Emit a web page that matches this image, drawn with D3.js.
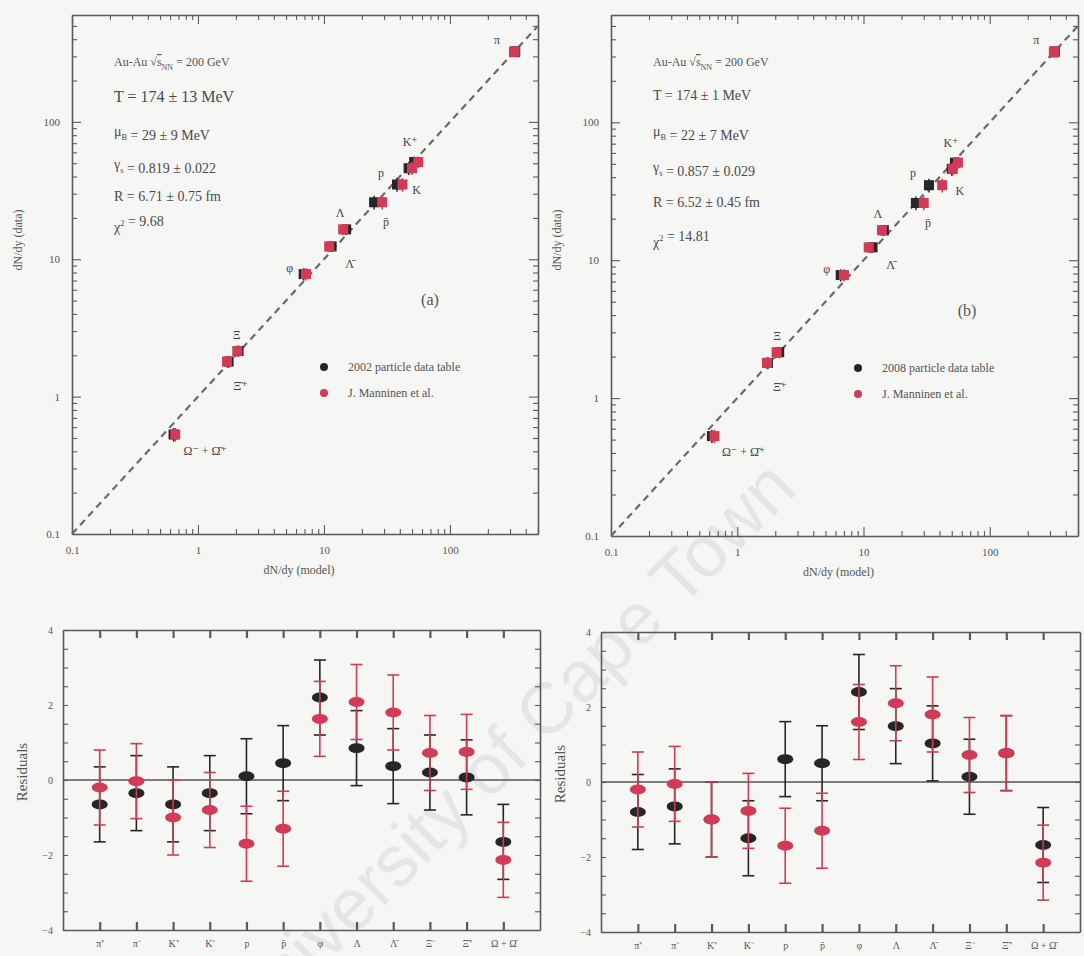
<!DOCTYPE html>
<html lang="en">
<head>
<meta charset="UTF-8">
<title>Thermal fit</title>
<script src="https://cdn.jsdelivr.net/npm/d3@7/dist/d3.min.js"></script>
<style>
  body { margin: 0; background: #f6f6f5; }
  svg { display: block; font-family: "Liberation Serif", "DejaVu Serif", serif; }
  .frame line, .frame path { stroke: #5a5a5a; }
  .tk text { fill: #555; }
</style>
</head>
<body>
<script>
// particle species (residual categories)
var cats = ["π⁺", "π⁻", "K⁺", "K⁻", "p", "p\u0304", "φ", "Λ", "Λ\u0304", "Ξ⁻", "Ξ\u0304⁺", "Ω + Ω\u0304"];

// measured yields dN/dy (data) and their errors
var dataYield = [322, 327, 51, 46, 35, 26, 7.8, 16.5, 12.4, 2.15, 1.8, 0.53];
var dataErr   = [24, 24, 5, 5, 4, 3, 0.8, 1.5, 1.1, 0.2, 0.18, 0.06];

// model yields, panel (a) and (b)
var modelA_pdg = [328, 330, 52, 47, 38, 25, 6.9, 15.0, 11.5, 2.1, 1.75, 0.64];
var modelA_man = [322, 327, 56, 50, 42, 29, 7.2, 14.2, 11.0, 2.05, 1.7, 0.66];
var modelB_pdg = [325, 328, 53, 50, 33, 26, 6.6, 14.5, 11.8, 2.15, 1.75, 0.63];
var modelB_man = [322, 326, 56, 51, 42, 30, 7.0, 14.0, 11.0, 2.05, 1.72, 0.66];

// residuals
var resA_pdg = [-0.65, -0.35, -0.65, -0.35, 0.1, 0.45, 2.2, 0.85, 0.37, 0.2, 0.07, -1.65];
var resA_man = [-0.2, -0.03, -1.0, -0.8, -1.7, -1.3, 1.63, 2.08, 1.8, 0.72, 0.75, -2.13];
var resB_pdg = [-0.8, -0.65, -1.0, -1.5, 0.61, 0.5, 2.4, 1.49, 1.03, 0.14, 0.77, -1.68];
var resB_man = [-0.2, -0.05, -1.0, -0.77, -1.7, -1.3, 1.6, 2.1, 1.8, 0.72, 0.77, -2.15];
var resErr   = [1, 1, 1, 1, 1, 1, 1, 1, 1, 1, 1, 1];

var legendA = ["2002 particle data table", "J. Manninen et al."];
var legendB = ["2008 particle data table", "J. Manninen et al."];

var BLACK = "#262626", RED = "#d23a55";

var svg = d3.select("body").append("svg").attr("width", 1084).attr("height", 956);

// watermark
svg.append("text").attr("transform", "translate(525,765) rotate(-45)")
  .attr("text-anchor", "middle").attr("font-family", "Liberation Sans, Arial, sans-serif")
  .attr("font-size", 72).attr("fill", "#dedede").attr("fill-opacity", 0.7)
  .text("University of Cape Town");

// label offsets for particle names in the scatter panels (index into cats)
var scatLabels = [
  {i: 0, t: "π", dx: -18, dy: -12},
  {i: 2, t: "K⁺", dx: -4, dy: -20},
  {i: 3, t: "K", dx: 8, dy: 22},
  {i: 4, t: "p", dx: -16, dy: -12},
  {i: 5, t: "p\u0304", dx: 12, dy: 20},
  {i: 7, t: "Λ", dx: -6, dy: -16},
  {i: 8, t: "Λ\u0304", dx: 18, dy: 18},
  {i: 6, t: "φ", dx: -14, dy: -6},
  {i: 9, t: "Ξ", dx: -2, dy: -16},
  {i: 10, t: "Ξ\u0304⁺", dx: 12, dy: 24},
  {i: 11, t: "Ω⁻ + Ω\u0304⁺", dx: 10, dy: 16, anchor: "start"}
];

function scatter(box, mPdg, mMan, legend, tag, params) {
  var x = d3.scaleLog().domain([0.1, 500]).range([box.l, box.r]);
  var y = d3.scaleLog().domain([0.1, 600]).range([box.b, box.t]);
  var g = svg.append("g");
  var fmt = function(d) { var e = Math.log10(d); return Math.abs(e - Math.round(e)) < 1e-6 ? (d < 1 ? "0.1" : d3.format("d")(d)) : ""; };

  var ax = [
    {a: d3.axisBottom(x).tickFormat(fmt), tr: "translate(0," + box.b + ")"},
    {a: d3.axisTop(x).tickFormat(""), tr: "translate(0," + box.t + ")"},
    {a: d3.axisLeft(y).tickFormat(fmt), tr: "translate(" + box.l + ",0)"},
    {a: d3.axisRight(y).tickFormat(""), tr: "translate(" + box.r + ",0)"}
  ];
  ax.forEach(function(o) {
    var s = g.append("g").attr("class", "frame tk").attr("transform", o.tr).call(o.a.tickSizeOuter(0).tickPadding(6));
    s.select(".domain").attr("stroke-width", 1.6);
    s.selectAll(".tick line").attr("stroke-width", 1.1)
      .each(function(d) {
        var e = Math.log10(d), maj = Math.abs(e - Math.round(e)) < 1e-6;
        var len = maj ? 9 : 5;
        var el = d3.select(this);
        if (el.attr("y2") !== null && +el.attr("y2") !== 0) el.attr("y2", el.attr("y2") > 0 ? -len : len);
        if (el.attr("x2") !== null && +el.attr("x2") !== 0) el.attr("x2", el.attr("x2") > 0 ? -len : len);
      });
    s.selectAll(".tick text").attr("font-size", 11).attr("font-family", "Liberation Serif, serif");
  });

  // diagonal y = x
  g.append("line").attr("x1", x(0.1)).attr("y1", y(0.1)).attr("x2", x(500)).attr("y2", y(500))
    .attr("stroke", "#6a6a6a").attr("stroke-width", 2.2).attr("stroke-dasharray", "7,5");

  [[mPdg, BLACK], [mMan, RED]].forEach(function(s) {
    var pts = g.append("g").selectAll("g").data(s[0]).enter().append("g");
    pts.append("line")
      .attr("x1", function(d) { return x(d); }).attr("x2", function(d) { return x(d); })
      .attr("y1", function(d, i) { return y(dataYield[i] + dataErr[i]); })
      .attr("y2", function(d, i) { return y(dataYield[i] - dataErr[i]); })
      .attr("stroke", s[1]).attr("stroke-width", 1.5);
    pts.append("rect")
      .attr("x", function(d) { return x(d) - 5; })
      .attr("y", function(d, i) { return y(dataYield[i]) - 5; })
      .attr("width", 10).attr("height", 10).attr("fill", s[1]);
  });

  scatLabels.forEach(function(o) {
    g.append("text").attr("x", x(mPdg[o.i]) + o.dx).attr("y", y(dataYield[o.i]) + o.dy + 4)
      .attr("text-anchor", o.anchor || "middle").attr("font-size", 12).attr("fill", "#444").text(o.t);
  });

  // legend
  legend.forEach(function(t, i) {
    var ly = box.legY + i * 26;
    g.append("circle").attr("cx", box.legX).attr("cy", ly).attr("r", 4).attr("fill", i ? RED : BLACK);
    g.append("text").attr("x", box.legX + 24).attr("y", ly + 4).attr("font-size", 12).attr("fill", "#555").text(t);
  });
  g.append("text").attr("x", box.tagX).attr("y", box.tagY).attr("font-size", 16).attr("fill", "#555")
    .attr("text-anchor", "middle").text(tag);

  // parameter block
  var tx = box.l + 42;
  var head = g.append("text").attr("x", tx).attr("y", 66).attr("font-size", 12).attr("fill", "#555");
  head.append("tspan").text("Au-Au √");
  head.append("tspan").attr("text-decoration", "overline").text("s");
  head.append("tspan").attr("dy", 4).attr("font-size", 8).text("NN");
  head.append("tspan").attr("dy", -4).text(" = 200 GeV");
  params.forEach(function(p) {
    var t = g.append("text").attr("x", tx).attr("y", p.y)
      .attr("font-size", p.fs).attr("fill", "#4a4a4a");
    t.append("tspan").text(p.a);
    if (p.sub) { t.append("tspan").attr("dy", 4).attr("font-size", p.fs * 0.6).text(p.sub); t.append("tspan").attr("dy", -4).text(""); }
    if (p.sup) { t.append("tspan").attr("dy", -6).attr("font-size", p.fs * 0.6).text(p.sup); t.append("tspan").attr("dy", 6).text(""); }
    t.append("tspan").text(p.b);
  });

  g.append("text").attr("x", (box.l + box.r) / 2 - 6).attr("y", box.b + 40).attr("text-anchor", "middle")
    .attr("font-size", 12).attr("fill", "#555").text("dN/dy (model)");
  g.append("text").attr("transform", "translate(" + (box.l - 50) + "," + 240 + ") rotate(-90)")
    .attr("text-anchor", "middle").attr("font-size", 12).attr("fill", "#555").text("dN/dy (data)");
}

function residuals(box, rPdg, rMan) {
  var x = d3.scaleLinear().domain([0, 13]).range([box.l, box.r]);
  var y = d3.scaleLinear().domain([-4, 4]).range([box.b, box.t]);
  var g = svg.append("g");
  var pos = d3.range(1, 13);
  var yt = d3.range(-4, 4.01, 0.5);
  var yf = function(d) { return d % 2 === 0 ? d3.format("d")(d) : ""; };
  var ax = [
    {a: d3.axisBottom(x).tickValues(pos).tickFormat(function(d) { return cats[d - 1]; }), tr: "translate(0," + box.b + ")", s: -8},
    {a: d3.axisTop(x).tickValues(pos).tickFormat(""), tr: "translate(0," + box.t + ")", s: -8},
    {a: d3.axisLeft(y).tickValues(yt).tickFormat(yf), tr: "translate(" + box.l + ",0)", s: -5},
    {a: d3.axisRight(y).tickValues(yt).tickFormat(""), tr: "translate(" + box.r + ",0)", s: -5}
  ];
  ax.forEach(function(o) {
    var s = g.append("g").attr("class", "frame tk").attr("transform", o.tr)
      .call(o.a.tickSizeInner(o.s).tickSizeOuter(0).tickPadding(10));
    s.select(".domain").attr("stroke-width", 1.6);
    s.selectAll(".tick line").attr("stroke-width", Math.abs(o.s) === 8 ? 2.2 : 1.1);
    s.selectAll(".tick text").attr("font-size", 10).attr("font-family", "Liberation Serif, serif");
  });
  g.append("line").attr("x1", box.l).attr("x2", box.r).attr("y1", y(0)).attr("y2", y(0))
    .attr("stroke", "#555").attr("stroke-width", 1.6);

  [[rPdg, BLACK], [rMan, RED]].forEach(function(s) {
    var pts = g.append("g").selectAll("g").data(s[0]).enter().append("g");
    var cx = function(d, i) { return x(i + 1); };
    pts.append("line").attr("x1", cx).attr("x2", cx)
      .attr("y1", function(d, i) { return y(d + resErr[i]); })
      .attr("y2", function(d, i) { return y(d - resErr[i]); })
      .attr("stroke", s[1]).attr("stroke-width", 1.6);
    [1, -1].forEach(function(sg) {
      pts.append("line")
        .attr("x1", function(d, i) { return x(i + 1) - 6; }).attr("x2", function(d, i) { return x(i + 1) + 6; })
        .attr("y1", function(d, i) { return y(d + sg * resErr[i]); })
        .attr("y2", function(d, i) { return y(d + sg * resErr[i]); })
        .attr("stroke", s[1]).attr("stroke-width", 1.6);
    });
    pts.append("ellipse").attr("cx", cx).attr("cy", function(d) { return y(d); })
      .attr("rx", 8).attr("ry", 5).attr("fill", s[1]);
  });

  g.append("text").attr("transform", "translate(" + (box.l - 36) + "," + (y(0) - 8) + ") rotate(-90)")
    .attr("text-anchor", "middle").attr("font-size", 15).attr("fill", "#555").text("Residuals");
}

scatter({l: 72, r: 538, t: 15, b: 534, legX: 324, legY: 367, tagX: 430, tagY: 305},
  modelA_pdg, modelA_man, legendA, "(a)", [
    {a: "T = 174  ± 13 MeV", b: "", y: 102, fs: 16},
    {a: "μ", sub: "B", b: " = 29  ± 9 MeV", y: 136, fs: 14},
    {a: "γ", sub: "s", b: " = 0.819  ± 0.022", y: 169, fs: 14},
    {a: "R = 6.71  ± 0.75 fm", b: "", y: 201, fs: 14},
    {a: "χ", sup: "2", b: " = 9.68", y: 232, fs: 14}
  ]);
scatter({l: 611, r: 1078, t: 15, b: 536, legX: 858, legY: 368, tagX: 967, tagY: 316},
  modelB_pdg, modelB_man, legendB, "(b)", [
    {a: "T = 174  ± 1 MeV", b: "", y: 100, fs: 14},
    {a: "μ", sub: "B", b: " = 22  ± 7 MeV", y: 136, fs: 14},
    {a: "γ", sub: "s", b: " = 0.857  ± 0.029", y: 172, fs: 14},
    {a: "R = 6.52  ± 0.45 fm", b: "", y: 207, fs: 14},
    {a: "χ", sup: "2", b: " = 14.81", y: 247, fs: 14}
  ]);
residuals({l: 63, r: 540, t: 630, b: 930}, resA_pdg, resA_man);
residuals({l: 601, r: 1080, t: 632, b: 932}, resB_pdg, resB_man);
</script>
</body>
</html>
